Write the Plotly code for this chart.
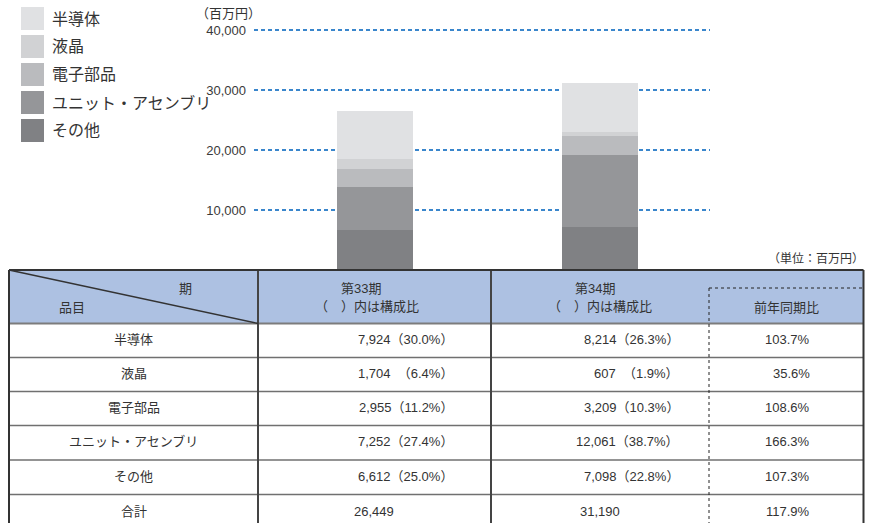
import plotly.graph_objects as go

# ---------------- data ----------------
categories = ["半導体", "液晶", "電子部品", "ユニット・アセンブリ", "その他"]
periods = ["第33期", "第34期"]
values_33 = [7924, 1704, 2955, 7252, 6612]
values_34 = [8214, 607, 3209, 12061, 7098]
share_33 = [30.0, 6.4, 11.2, 27.4, 25.0]
share_34 = [26.3, 1.9, 10.3, 38.7, 22.8]
yoy = [103.7, 35.6, 108.6, 166.3, 107.3]
totals = [26449, 31190]
total_yoy = 117.9
y_ticks = [10000, 20000, 30000, 40000]

# ---------------- styles ----------------
colors = ["#e0e1e3", "#d1d2d4", "#babbbe", "#959699", "#808184"]
W, H = 882, 523
FONT = "Liberation Sans, Noto Sans CJK JP, sans-serif"
TXT = "#333333"

fig = go.Figure()

# stacked bars: bottom = その他 ... top = 半導体
for i in reversed(range(len(categories))):
    fig.add_bar(
        x=periods, y=[values_33[i], values_34[i]], name=categories[i],
        marker=dict(color=colors[i], line=dict(width=0)), width=0.338,
        showlegend=False, hoverinfo="skip",
    )

# invisible helper trace for the pixel-space overlay axes (table / legend)
fig.add_scatter(x=[0], y=[0], xaxis="x2", yaxis="y2", mode="markers",
                marker=dict(opacity=0), showlegend=False, hoverinfo="skip")

shapes = []
ann = []

def T(x, y, text, size=13, xanchor="center", color=TXT):
    ann.append(dict(x=x, y=y, xref="x2", yref="y2", text=text, showarrow=False,
                    xanchor=xanchor, yanchor="middle",
                    font=dict(family=FONT, size=size, color=color)))

def L(x0, y0, x1, y1, color="#3c3c3c", width=2, dash="solid"):
    shapes.append(dict(type="line", x0=x0, y0=y0, x1=x1, y1=y1, xref="x2", yref="y2",
                       line=dict(color=color, width=width, dash=dash)))

def pct(p):
    return ("  " if p < 10 else "") + f"（{p:.1f}%）"

# ---------------- legend ----------------
for i, (cat, col) in enumerate(zip(categories, colors)):
    top = 7 + 28 * i
    shapes.append(dict(type="rect", x0=21, x1=44, y0=top, y1=top + 23, xref="x2", yref="y2",
                       fillcolor=col, line=dict(width=0)))
    T(50, top + 11.5, cat, size=16, xanchor="left")

# axis unit labels
T(228, 13, "（百万円）", size=13)
T(866, 259, "（単位：百万円）", size=12, xanchor="right")

# ---------------- table ----------------
left, right, top_y, head_b = 9, 863.5, 270, 323.5
col_x = [258, 491]
dash_x = 709
row_b = [323.5, 357.5, 391.5, 425.5, 460, 494.5, 529]

shapes.append(dict(type="rect", x0=left, x1=right, y0=top_y, y1=head_b, xref="x2", yref="y2",
                   fillcolor="#adc1e2", line=dict(width=0), layer="below"))
for yb in row_b[1:-1]:
    L(left, yb, right, yb, color="#707070", width=1.6)
L(left, head_b, right, head_b, color="#7c7c7c", width=2)
for cx in col_x:
    L(cx, top_y, cx, H + 5, color="#444444", width=2)
L(dash_x, 288, dash_x, H + 5, color="#222222", width=1, dash="3px,3px")
L(dash_x, 288, right, 288, color="#222222", width=1, dash="3px,3px")
L(left, top_y, 258, head_b, color="#333333", width=1.4)
L(left, top_y, left, H + 5, color="#333333", width=2)
L(right, top_y, right, H + 5, color="#333333", width=2)
L(left, top_y, right, top_y, color="#333333", width=2)

# header texts
T(185, 288, "期")
T(72, 307, "品目")
T(361, 288, periods[0])
T(367, 306, "（　）内は構成比")
T(595, 288, periods[1])
T(600, 306, "（　）内は構成比")
T(786, 307, "前年同期比")

# body
for i, cat in enumerate(categories):
    yc = (row_b[i] + row_b[i + 1]) / 2 - 1
    T(133.5, yc, cat)
    T(455, yc, f"{values_33[i]:,}" + pct(share_33[i]), xanchor="right")
    T(681, yc, f"{values_34[i]:,}" + pct(share_34[i]), xanchor="right")
    T(812, yc, f"{yoy[i]:.1f}%", xanchor="right")

yc = (row_b[5] + row_b[6]) / 2 - 0.5
T(133.5, yc, "合計")
T(374, yc, f"{totals[0]:,}")
T(600, yc, f"{totals[1]:,}")
T(812, yc, f"{total_yoy:.1f}%", xanchor="right")

fig.update_layout(
    width=W, height=H, margin=dict(l=0, r=0, t=0, b=0, autoexpand=False),
    paper_bgcolor="white", plot_bgcolor="rgba(0,0,0,0)",
    barmode="stack", bargap=0, showlegend=False,
    xaxis=dict(domain=[254 / W, 710 / W], range=[-0.5378, 1.4889], type="category",
               visible=False, fixedrange=True, automargin=False),
    yaxis=dict(domain=[1 - 270 / H, 1 - 27 / H], range=[0, 40500],
               tickvals=y_ticks, ticktext=[f"{v:,}" for v in y_ticks],
               showgrid=True, gridcolor="#3a86cc", gridwidth=2, griddash="4px,3px",
               zeroline=False, showline=False, ticks="", ticklabelstandoff=7,
               automargin=False,
               tickfont=dict(family=FONT, size=13, color="#3a3a3a"), fixedrange=True),
    xaxis2=dict(domain=[0, 1], range=[0, W], visible=False, anchor="y2", fixedrange=True,
                automargin=False),
    yaxis2=dict(domain=[0, 1], range=[H, 0], visible=False, anchor="x2", fixedrange=True,
                automargin=False),
    shapes=shapes, annotations=ann,
)

fig.write_html("out.html", config={"displayModeBar": False},
               post_script="document.body.style.margin='0px';")
